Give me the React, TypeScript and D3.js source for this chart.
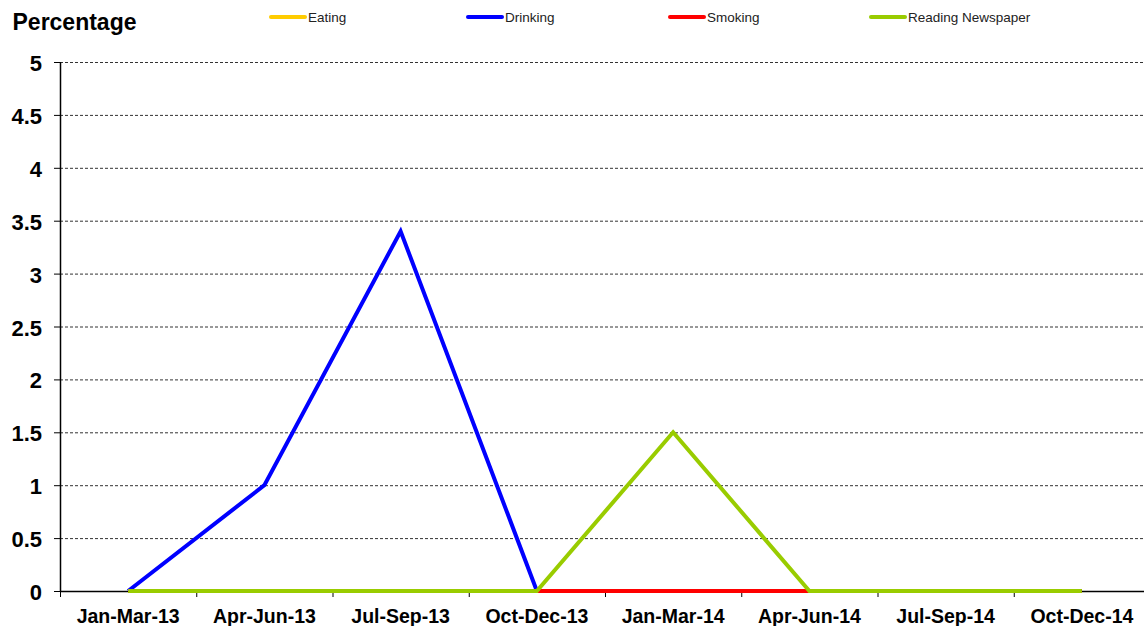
import React from "react";
import * as d3 from "d3";

const categories = [
  "Jan-Mar-13", "Apr-Jun-13", "Jul-Sep-13", "Oct-Dec-13",
  "Jan-Mar-14", "Apr-Jun-14", "Jul-Sep-14", "Oct-Dec-14",
];
const eating = [0, 0, 0, 0, 0, 0, 0, 0];
const drinking = [0, 1, 3.4, 0, 0, 0, 0, 0];
const smoking = [0, 0, 0, 0, 0, 0, 0, 0];
const readingNewspaper = [0, 0, 0, 0, 1.5, 0, 0, 0];
const yTicks = [0, 0.5, 1, 1.5, 2, 2.5, 3, 3.5, 4, 4.5, 5];

const series = [
  { name: "Eating", values: eating, color: "#FFCC00", legendX: 271 },
  { name: "Drinking", values: drinking, color: "#0000FF", legendX: 468 },
  { name: "Smoking", values: smoking, color: "#FF0000", legendX: 670 },
  { name: "Reading Newspaper", values: readingNewspaper, color: "#99CC00", legendX: 871 },
];

const W = 1144;
const H = 626;
const left = 60;
const right = 1150;
const top = 62;
const bottom = 591;

export default function App() {
  const x = d3.scaleBand<string>().domain(categories).range([left, right]).padding(0);
  const y = d3.scaleLinear().domain([0, 5]).range([bottom, top]);
  const cx = (c: string) => (x(c) ?? 0) + x.bandwidth() / 2;
  const line = d3
    .line<number>()
    .x((_, i) => cx(categories[i]))
    .y((v) => y(v));
  const font = "Arial, 'Liberation Sans', sans-serif";
  const bounds = categories.map((c) => x(c) ?? 0).concat([right]);

  return (
    <svg
      width={W}
      height={H}
      style={{ position: "absolute", left: 0, top: 0, background: "#fff" }}
      fontFamily={font}
    >
      <text x={12.5} y={29.5} fontSize={23} fontWeight="bold" fill="#000">
        Percentage
      </text>
      {series.map((s) => (
        <g key={s.name}>
          <line
            x1={s.legendX}
            x2={s.legendX + 34}
            y1={17}
            y2={17}
            stroke={s.color}
            strokeWidth={4}
            strokeLinecap="round"
          />
          <text x={s.legendX + 37} y={22} fontSize={13.5} fill="#222">
            {s.name}
          </text>
        </g>
      ))}
      {yTicks.map((t) => (
        <g key={t}>
          {t > 0 && (
            <line
              x1={left}
              x2={W}
              y1={y(t) + 0.5}
              y2={y(t) + 0.5}
              stroke="#333"
              strokeWidth={1}
              strokeDasharray="3,2"
            />
          )}
          <line x1={left - 6} x2={left} y1={y(t) + 0.5} y2={y(t) + 0.5} stroke="#000" />
          <text
            x={42}
            y={y(t) + 9}
            fontSize={22}
            fontWeight="bold"
            textAnchor="end"
            fill="#000"
          >
            {t}
          </text>
        </g>
      ))}
      <line x1={left + 0.5} x2={left + 0.5} y1={top} y2={bottom} stroke="#000" strokeWidth={1.5} />
      <line x1={left} x2={W} y1={bottom + 0.5} y2={bottom + 0.5} stroke="#000" strokeWidth={1.5} />
      {bounds.map((b, i) => (
        <line key={i} x1={b + 0.5} x2={b + 0.5} y1={bottom} y2={bottom + 6} stroke="#000" />
      ))}
      {categories.map((c) => (
        <text
          key={c}
          x={cx(c)}
          y={623}
          fontSize={19.5}
          fontWeight="bold"
          textAnchor="middle"
          fill="#000"
        >
          {c}
        </text>
      ))}
      {series.map((s) => (
        <path
          key={s.name}
          d={line(s.values) ?? ""}
          fill="none"
          stroke={s.color}
          strokeWidth={4}
          strokeLinejoin="miter"
        />
      ))}
    </svg>
  );
}
